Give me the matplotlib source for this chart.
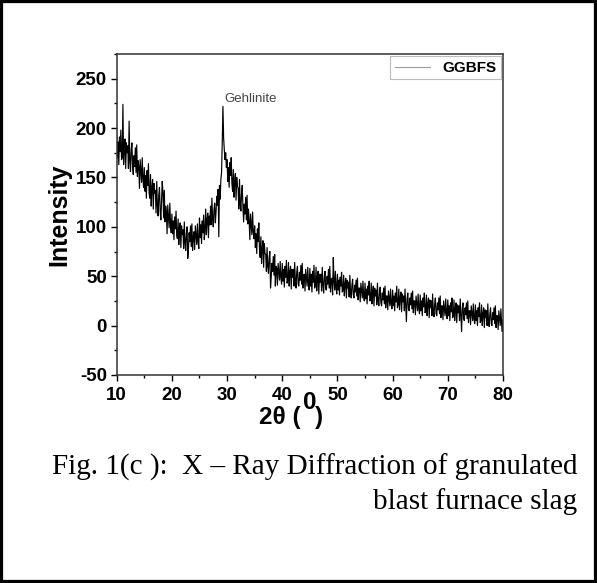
import numpy as np
import matplotlib.pyplot as plt
from matplotlib.patches import Rectangle
from matplotlib.ticker import MultipleLocator

plt.rcParams['axes.unicode_minus'] = False

# 2theta grid, 0.125 deg step from 10 to 80
two_theta = np.arange(10, 80.001, 0.125)

# intensity (8 readings per degree)
intensity = [
    194, 170, 186, 163, 191, 176, 198, 168,   # 10
    170, 224, 163, 181, 189, 159, 185, 175,   # 11
    182, 159, 207, 166, 156, 177, 185, 162,   # 12
    153, 172, 161, 180, 155, 183, 151, 167,   # 13
    161, 139, 168, 157, 145, 170, 149, 140,   # 14
    160, 136, 152, 129, 157, 142, 164, 134,   # 15
    129, 153, 121, 140, 148, 118, 144, 134,   # 16
    137, 114, 146, 121, 111, 132, 140, 116,   # 17
    107, 126, 146, 135, 109, 137, 105, 121,   # 18
    115, 93, 122, 111, 99, 124, 103, 94,      # 19
    113, 93, 106, 87, 110, 98, 116, 91,       # 20
    88, 108, 82, 97, 104, 79, 101, 92,        # 21
    97, 78, 105, 84, 76, 93, 100, 68,         # 22
    78, 94, 85, 101, 80, 103, 76, 90,         # 23
    95, 77, 101, 92, 82, 103, 85, 78,         # 24
    109, 89, 102, 83, 106, 94, 112, 87,       # 25
    98, 118, 92, 107, 114, 89, 111, 102,      # 26
    121, 102, 129, 108, 100, 117, 124, 104,   # 27
    115, 131, 122, 138, 90, 142, 128, 148,    # 28
    155, 185, 222, 190, 178, 168, 175, 160,   # 29
    168, 146, 160, 140, 165, 152, 170, 144,   # 30
    136, 158, 130, 146, 154, 127, 150, 141,   # 31
    139, 118, 148, 125, 116, 134, 142, 120,   # 32
    105, 123, 113, 130, 107, 132, 103, 118,   # 33
    106, 87, 113, 103, 92, 115, 95, 88,       # 34
    101, 79, 93, 73, 98, 85, 104, 77,         # 35
    69, 90, 63, 78, 86, 59, 83, 73,           # 36
    72, 55, 79, 60, 53, 69, 75, 38,           # 37
    49, 63, 55, 70, 51, 72, 40, 60,           # 38
    58, 41, 63, 55, 46, 65, 49, 42,           # 39
    63, 45, 57, 39, 60, 49, 66, 43,           # 40
    46, 64, 40, 54, 60, 37, 57, 49,           # 41
    57, 40, 64, 45, 38, 54, 60, 42,           # 42
    40, 54, 46, 61, 42, 63, 38, 51,           # 43
    52, 35, 57, 49, 40, 59, 43, 36,           # 44
    58, 40, 52, 34, 55, 44, 61, 38,           # 45
    41, 59, 35, 49, 55, 32, 52, 44,           # 46
    52, 35, 59, 41, 33, 49, 55, 37,           # 47
    36, 50, 42, 57, 38, 60, 34, 47,           # 48
    48, 31, 69, 45, 36, 55, 39, 32,           # 49
    52, 36, 46, 31, 49, 40, 54, 34,           # 50
    35, 51, 30, 42, 48, 28, 46, 38,           # 51
    44, 29, 51, 34, 28, 41, 47, 31,           # 52
    28, 41, 34, 46, 30, 48, 26, 38,           # 53
    38, 24, 43, 36, 28, 45, 30, 25,           # 54
    43, 27, 37, 22, 40, 31, 45, 25,           # 55
    27, 43, 22, 34, 40, 20, 38, 30,           # 56
    36, 21, 43, 26, 20, 33, 39, 23,           # 57
    20, 33, 26, 38, 22, 40, 18, 30,           # 58
    30, 16, 35, 28, 20, 37, 22, 17,           # 59
    36, 20, 30, 15, 33, 24, 40, 18,           # 60
    21, 37, 16, 28, 34, 14, 32, 24,           # 61
    30, 15, 37, 20, 4, 27, 33, 17,            # 62
    15, 28, 21, 33, 17, 35, 13, 25,           # 63
    25, 11, 30, 23, 15, 32, 17, 12,           # 64
    31, 15, 25, 10, 28, 19, 33, 13,           # 65
    15, 31, 10, 22, 28, 8, 26, 18,            # 66
    25, 10, 32, 15, 9, 22, 28, 12,            # 67
    10, 23, 16, 28, 12, 30, 8, 20,            # 68
    20, 6, 25, 18, 10, 27, 12, 7,             # 69
    26, 10, 20, 5, 23, 14, 28, 8,             # 70
    10, 26, 5, 17, 23, 3, 21, 13,             # 71
    20, 5, 27, 10, -6, 17, 23, 7,             # 72
    5, 18, 11, 23, 7, 25, 3, 15,              # 73
    15, 1, 20, 13, 5, 22, 7, 2,               # 74
    21, 5, 15, 0, 18, 9, 23, 3,               # 75
    5, 21, 0, 12, 18, -2, 16, 8,              # 76
    15, 0, 22, 5, -1, 12, 18, 2,              # 77
    0, 13, 6, 18, 2, 20, -2, 10,              # 78
    10, -4, 15, 8, 0, 17, 2, -6,              # 79
    6,                                        # 80
]

fig = plt.figure(figsize=(5.97, 5.83), dpi=100)
ax = fig.add_axes([0.1955, 0.3568, 0.647, 0.5506])

ax.plot(two_theta, intensity, color='black', lw=0.85, label='GGBFS')

ax.set_xlim(10, 80)
ax.set_ylim(-50, 275)
ax.set_xticks(range(10, 81, 10))
ax.set_yticks(range(-50, 251, 50))
ax.xaxis.set_minor_locator(MultipleLocator(5))
ax.yaxis.set_minor_locator(MultipleLocator(25))
ax.tick_params(which='major', direction='out', length=4, width=1, labelsize=13.5)
ax.tick_params(axis='x', which='major', pad=4.5)
ax.tick_params(axis='y', which='major', pad=3)
ax.tick_params(which='minor', direction='out', length=2.2, width=1)
for lab in ax.get_xticklabels() + ax.get_yticklabels():
    lab.set_fontweight('bold')
    lab.set_family('Liberation Sans')
for sp in ax.spines.values():
    sp.set_linewidth(1.1)
    sp.set_color('#333333')

ax.set_ylabel('Intensity', fontsize=18, fontweight='bold', family='Liberation Sans', labelpad=3)

ax.text(29.6, 229, 'Gehlinite', fontsize=9.5, color='#444444',
        family='Liberation Sans', va='center', ha='left')

leg = ax.legend(loc='upper right', frameon=True, fancybox=False,
                handlelength=2.3, borderaxespad=0.15, borderpad=0.3,
                prop={'family': 'Liberation Sans', 'weight': 'bold', 'size': 11})
leg.get_frame().set_edgecolor('#aaaaaa')
leg.get_frame().set_linewidth(0.8)
leg.get_lines()[0].set_color('#999999')
leg.get_lines()[0].set_linewidth(0.8)

# x label: 2θ ( ^0 )
fig.text(301 / 597, 1 - 424 / 583, '2θ (', fontsize=17.5, fontweight='bold',
         family='Liberation Sans', ha='right', va='baseline')
fig.text(303 / 597, 1 - 409 / 583, '0', fontsize=17.5, fontweight='bold',
         family='Liberation Sans', ha='left', va='baseline')
fig.text(315 / 597, 1 - 424 / 583, ')', fontsize=17.5, fontweight='bold',
         family='Liberation Sans', ha='left', va='baseline')

# caption
fig.text(577 / 597, 1 - 475 / 583, 'Fig. 1(c ):  X – Ray Diffraction of granulated',
         fontsize=21, family='Liberation Serif', ha='right', va='baseline')
fig.text(577 / 597, 1 - 509 / 583, 'blast furnace slag',
         fontsize=21, family='Liberation Serif', ha='right', va='baseline')

# outer frame
fig.patches.append(Rectangle((0, 0), 1, 1, transform=fig.transFigure,
                             fill=False, edgecolor='black', lw=4.5))

fig.savefig('out.png', dpi=100)
